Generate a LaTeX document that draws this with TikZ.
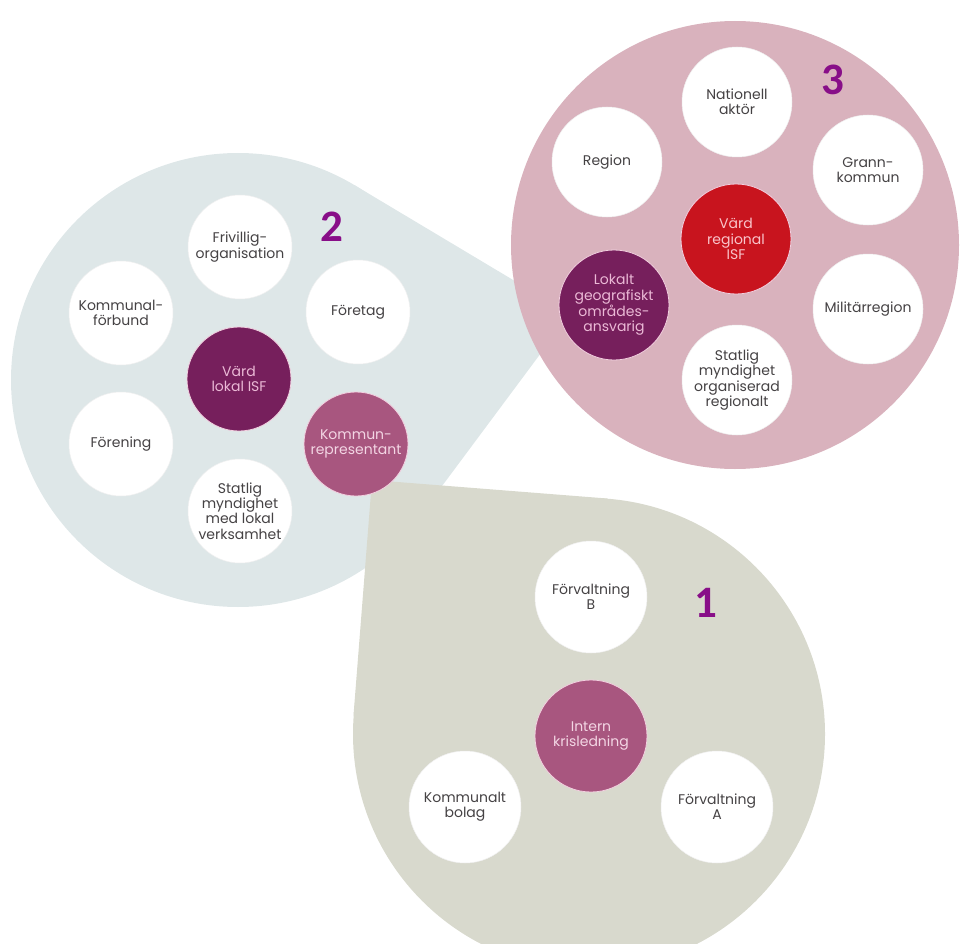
\documentclass[tikz,border=0pt]{standalone}
\usepackage{fontspec}
\setmainfont{Poppins}
\newfontfamily\numfont{Carlito}
\definecolor{bluebg}{HTML}{DEE7E8}
\definecolor{pinkbg}{HTML}{D9B2BD}
\definecolor{graybg}{HTML}{D8D9CD}
\definecolor{darkplum}{HTML}{761F5C}
\definecolor{mauve}{HTML}{A8567F}
\definecolor{isfred}{HTML}{C8141E}
\definecolor{numpurple}{HTML}{880E88}
\definecolor{txtgray}{HTML}{454244}
\definecolor{lightpinktxt}{HTML}{EBB9D6}
\definecolor{palepinktxt}{HTML}{F3D6E4}
\definecolor{redtxt}{HTML}{F9C4CA}
\definecolor{rimpink}{HTML}{F2CFDF}
\begin{document}
\begin{tikzpicture}[x=1pt,y=-1pt,
  bigdisc/.style={circle, inner sep=0pt, outer sep=0pt, draw=none},
  bub/.style={circle, inner sep=0pt, outer sep=0pt, fill=white, draw=white!94!black, line width=0.5pt,
    text=txtgray, align=center, font=\fontsize{14}{15.2}\selectfont},
  bubA/.style={bub, minimum size=104pt},
  bubB/.style={bub, minimum size=110pt},
  bubC/.style={bub, minimum size=112pt},
  colbub/.style={draw=rimpink, line width=0.8pt},
  numlbl/.style={font=\numfont\bfseries\fontsize{45}{45}\selectfont, text=numpurple, inner sep=0pt}]
\useasboundingbox (0,0) rectangle (963,944);

% group 2 : blue teardrop
\node[bigdisc, fill=bluebg, minimum size=454pt] (g2) at (238,380) {};
\coordinate (g2tip) at (570,314);
\coordinate (g2t1) at (354.4,185.1);
\coordinate (g2t2) at (420.1,515.5);
\fill[bluebg] (g2tip) -- (g2t1) -- (g2.center) -- (g2t2) -- cycle;

% group 3 : pink disc
\node[bigdisc, fill=pinkbg, minimum size=448pt] (g3) at (735,245) {};

% group 1 : gray teardrop
\node[bigdisc, fill=graybg, minimum size=472pt] (g1) at (589,734) {};
\coordinate (g1tip) at (372,480);
\coordinate (g1t1) at (607.3,498.5);
\coordinate (g1t2) at (353.5,715.3);
\fill[graybg] (g1tip) -- (g1t1) -- (g1.center) -- (g1t2) -- cycle;

% group 2 circles
\node[bubA] (frivillig) at (240,247) {Frivillig-\\organisation};
\node[bubA] (kforbund) at (121,313) {Kommunal-\\förbund};
\node[bubA] (foretag) at (358,312) {Företag};
\node[bubA, colbub, fill=darkplum, text=lightpinktxt] (vardlokal) at (239,379) {Värd\\lokal ISF};
\node[bubA] (forening) at (121,444) {Förening};
\node[bubA, colbub, fill=mauve, text=palepinktxt] (kommunrep) at (356,444) {Kommun-\\representant};
\node[bubA] (statliglokal) at (240,511) {Statlig\\myndighet\\med lokal\\verksamhet};

% group 3 circles
\node[bubB] (nationell) at (737,102) {Nationell\\aktör};
\node[bubB] (region) at (607,162) {Region};
\node[bubB] (grann) at (868,170) {Grann-\\kommun};
\node[bubB, colbub, fill=isfred, text=redtxt] (vardregional) at (736,239) {Värd\\regional\\ISF};
\node[bubB, colbub, fill=darkplum, text=lightpinktxt] (lokalt) at (614,305) {Lokalt\\geografiskt\\områdes-\\ansvarig};
\node[bubB] (militar) at (868,309) {Militärregion};
\node[bubB] (statligreg) at (737,380) {Statlig\\myndighet\\organiserad\\regionalt};

% group 1 circles
\node[bubC] (forvB) at (591,597) {Förvaltning\\B};
\node[bubC, colbub, fill=mauve, text=palepinktxt] (intern) at (591,736) {Intern\\krisledning};
\node[bubC] (kbolag) at (465,807) {Kommunalt\\bolag};
\node[bubC] (forvA) at (717,807) {Förvaltning\\A};

% numbers
\node[numlbl] (n1) at (706,603) {1};
\node[numlbl] (n2) at (332,227) {2};
\node[numlbl] (n3) at (833,80) {3};
\end{tikzpicture}
\end{document}
